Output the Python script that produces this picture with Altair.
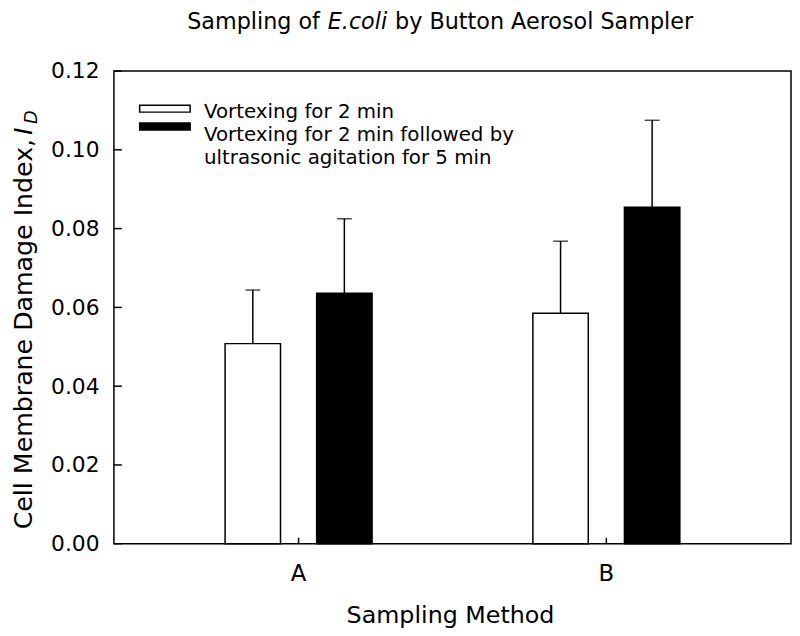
import altair as alt
import pandas as pd

# ---- data ----
methods = ["A", "B"]
series = ["Vortexing for 2 min",
          "Vortexing for 2 min followed by ultrasonic agitation for 5 min"]
vortex_mean = [0.0508, 0.0585]
vortex_upper = [0.0644, 0.0768]
ultra_mean = [0.0636, 0.0854]
ultra_upper = [0.0825, 0.1075]
y_ticks = [0.00, 0.02, 0.04, 0.06, 0.08, 0.10, 0.12]

rows = []
for i, m in enumerate(methods):
    rows.append({"method": m, "series": series[0], "value": vortex_mean[i], "upper": vortex_upper[i]})
    rows.append({"method": m, "series": series[1], "value": ultra_mean[i], "upper": ultra_upper[i]})
df = pd.DataFrame(rows)
one = pd.DataFrame({"k": [0]})
ytick_df = pd.DataFrame({"value": y_ticks})
xtick_df = pd.DataFrame({"method": methods})

W, H = 684, 477.5
FONT = "DejaVu Sans"

xscale = alt.Scale(domain=methods, paddingInner=0, paddingOuter=0.1)
yscale = alt.Scale(domain=[0, 0.12], nice=False, zero=True)
offscale = alt.Scale(domain=series, paddingInner=0.3946, paddingOuter=0.878)

bars = alt.Chart(df).mark_bar(stroke="black", strokeWidth=1.5).encode(
    x=alt.X("method:N", scale=xscale,
            axis=alt.Axis(orient="bottom", title=None, labelAngle=0,
                          ticks=False, domain=False, grid=False, labelPadding=19,
                          labelFontSize=23, labelColor="black")),
    xOffset=alt.XOffset("series:N", scale=offscale),
    y=alt.Y("value:Q", scale=yscale,
            axis=alt.Axis(orient="left", values=y_ticks, format=".2f", ticks=False,
                          domain=False, grid=False, labelPadding=15, labelFontSize=22,
                          labelColor="black", title=None)),
    fill=alt.Fill("series:N", scale=alt.Scale(domain=series, range=["white", "black"]),
                  legend=None),
)

err = alt.Chart(df).mark_rule(color="black", strokeWidth=1.5).encode(
    x=alt.X("method:N", scale=xscale, axis=None),
    xOffset=alt.XOffset("series:N", scale=offscale),
    y=alt.Y("value:Q", scale=yscale, axis=None),
    y2="upper:Q",
)

caps = alt.Chart(df).mark_tick(color="black", thickness=1.5, size=15).encode(
    x=alt.X("method:N", scale=xscale, axis=None),
    xOffset=alt.XOffset("series:N", scale=offscale),
    y=alt.Y("upper:Q", scale=yscale, axis=None),
)

# inward-pointing axis ticks
yticks_in = alt.Chart(ytick_df).mark_rule(color="black", strokeWidth=1.5).encode(
    y=alt.Y("value:Q", scale=yscale, axis=None),
    x=alt.value(0), x2=alt.value(8),
)
xticks_in = alt.Chart(xtick_df).mark_rule(color="black", strokeWidth=1.5).encode(
    x=alt.X("method:N", scale=xscale, axis=None),
    y=alt.value(H), y2=alt.value(H - 6),
)

def txt(text, x, y, size, align="left", angle=0, style="normal"):
    return alt.Chart(one).mark_text(text=text, align=align, baseline="alphabetic",
                                    font=FONT, fontSize=size, color="black",
                                    angle=angle, fontStyle=style).encode(
        x=alt.value(x), y=alt.value(y))

def box(x1, x2, y1, y2, fill):
    return alt.Chart(one).mark_rect(fill=fill, stroke="black", strokeWidth=1.5).encode(
        x=alt.value(x1), x2=alt.value(x2), y=alt.value(y1), y2=alt.value(y2))

title_parts = [
    txt("Sampling of", 74, -42, 22.5),
    txt("E.coli", 216, -42, 22.5, style="italic"),
    txt("by Button Aerosol Sampler", 284, -42, 22.5),
]
ytitle_parts = [
    txt("Cell Membrane Damage Index,", -83, 68.5, 25.5, align="right", angle=270),
    txt("I", -83, 64.5, 25.5, align="left", angle=270, style="italic"),
    txt("D", -78, 53.5, 18, align="left", angle=270, style="italic"),
]
xtitle = txt("Sampling Method", W / 2 - 2, 558, 24, align="center")
legend_parts = [
    box(26, 77, 34.5, 41.5, "white"),
    box(26, 77, 52.5, 59.5, "black"),
    txt("Vortexing for 2 min", 91, 47.5, 20),
    txt("Vortexing for 2 min followed by", 91, 71, 20),
    txt("ultrasonic agitation for 5 min", 91, 94, 20),
]

chart = alt.layer(
    bars, err, caps, yticks_in, xticks_in,
    *title_parts, *ytitle_parts, xtitle, *legend_parts
).resolve_axis(
    x="independent", y="independent"
).properties(
    width=W, height=H,
    autosize=alt.AutoSizeParams(type="none"),
    padding={"left": 107, "top": 60.5, "right": 1, "bottom": 88},
).configure(font=FONT).configure_view(stroke="black", strokeWidth=1.5)

chart.save("out.html", embed_options={"renderer": "svg", "actions": False})
